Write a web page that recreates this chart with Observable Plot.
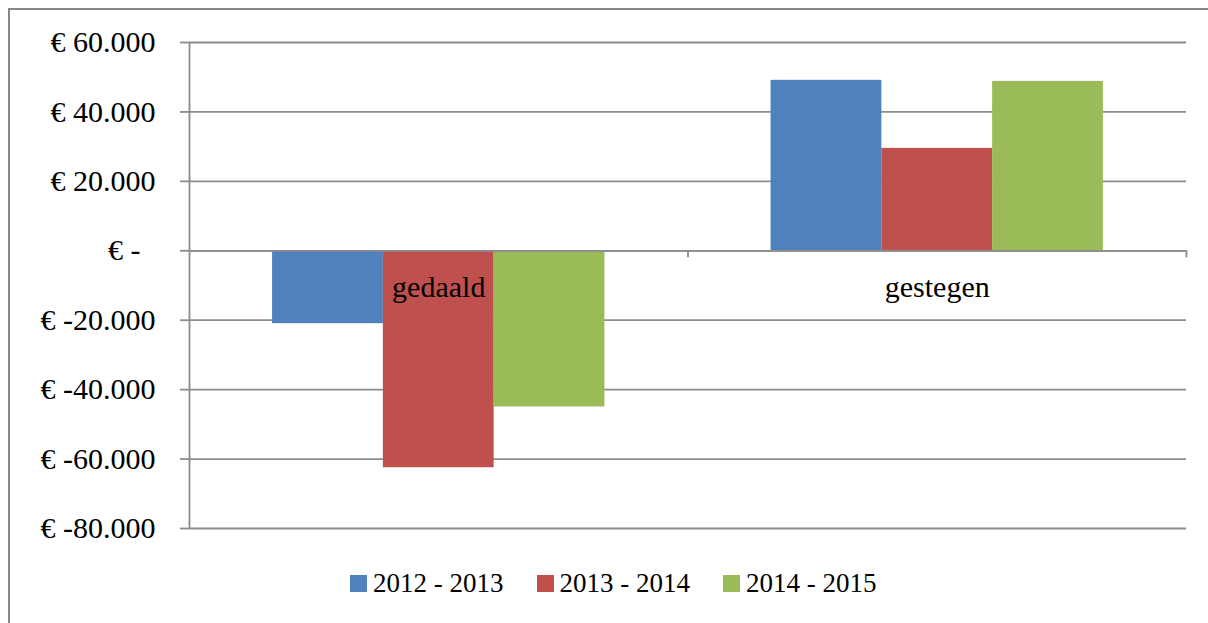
<!DOCTYPE html>
<html>
<head>
<meta charset="utf-8">
<script src="https://cdn.jsdelivr.net/npm/d3@7"></script>
<script src="https://cdn.jsdelivr.net/npm/@observablehq/plot@0.6"></script>
<style>
  html, body { margin: 0; padding: 0; background: #fff; overflow: hidden; width: 1208px; height: 623px; }
  #wrap { position: relative; width: 1208px; height: 623px; overflow: hidden; }
  #border { position: absolute; left: 8px; top: 8px; width: 1400px; height: 800px; border: 2px solid #868686; box-sizing: border-box; z-index: 2; pointer-events: none; }
  #chart { position: absolute; left: 0; top: 0; z-index: 1; }
  #legend { position: absolute; left: 350px; top: 568px; display: flex; align-items: center; font-family: "Liberation Serif", serif; font-size: 27px; color: #000; z-index: 1; }
  .item { display: flex; align-items: center; margin-right: 33px; }
  .sw { width: 17px; height: 17px; margin-right: 6px; }
</style>
</head>
<body>
<div id="wrap">
  <div id="chart"></div>
  <div id="legend"></div>
  <div id="border"></div>
</div>
<script>
const categories = ["gedaald", "gestegen"];
const series = ["2012 - 2013", "2013 - 2014", "2014 - 2015"];
const colors = ["#4F81BD", "#C0504D", "#9BBB59"];
const gedaald = [-21000, -62500, -45000];
const gestegen = [49100, 29500, 48800];
const yTicks = [60000, 40000, 20000, 0, -20000, -40000, -60000, -80000];

const valuesByCategory = {gedaald, gestegen};

// layout of grouped bars in category units
const outer = d3.scaleBand().domain(categories).range([0, categories.length]).padding(0);
const inner = d3.scaleBand().domain(series).range([0, 1]).paddingInner(0).paddingOuter(0.75);

const rows = [];
categories.forEach(c => {
  series.forEach((s, i) => {
    const x1 = outer(c) + inner(s);
    rows.push({category: c, series: s, value: valuesByCategory[c][i], x1, x2: x1 + inner.bandwidth()});
  });
});
const labels = categories.map(c => ({category: c, x: outer(c) + outer.bandwidth() / 2}));
const boundaries = categories.map((c, i) => i + 1);

const loc = d3.formatLocale({decimal: ",", thousands: ".", grouping: [3], currency: ["€ ", ""], minus: "-"});
const fmtNum = loc.format(",");
const fmt = v => v === 0 ? "€ -\u00a0\u00a0" : "€ " + fmtNum(v);

const grid = "#8c8c8c";

const plot = Plot.plot({
  width: 1208,
  height: 560,
  marginLeft: 189,
  marginRight: 22,
  marginTop: 42,
  marginBottom: 32,
  style: {fontFamily: "Liberation Serif, serif", background: "transparent", color: "#000"},
  x: {type: "linear", domain: [0, categories.length], axis: null},
  y: {domain: [-80000, 60000], axis: null},
  color: {domain: series, range: colors},
  marks: [
    Plot.ruleY(yTicks, {stroke: grid, strokeWidth: 1.8}),
    Plot.axisY({ticks: yTicks, label: null, tickSize: 9, tickPadding: 25, tickFormat: fmt, fontSize: 30, stroke: grid, strokeWidth: 1.8, strokeOpacity: 1, fill: "#000"}),
    Plot.ruleX([0], {y1: -80000, y2: 60000, stroke: grid, strokeWidth: 1.8}),
    Plot.rectY(rows, {x1: "x1", x2: "x2", y1: 0, y2: "value", fill: "series"}),
    Plot.ruleY([0], {stroke: grid, strokeWidth: 1.8}),
    Plot.ruleX(boundaries, {y1: 0, y2: 0, insetBottom: -7, stroke: grid, strokeWidth: 1.8}),
    Plot.text(labels, {x: "x", y: 0, text: "category", dy: 37, fontSize: 30, fill: "#000", textAnchor: "middle"})
  ]
});
document.getElementById("chart").appendChild(plot);

const legend = document.getElementById("legend");
series.forEach((s, i) => {
  const item = document.createElement("div");
  item.className = "item";
  const sw = document.createElement("div");
  sw.className = "sw";
  sw.style.background = colors[i];
  const t = document.createElement("span");
  t.textContent = s;
  item.appendChild(sw);
  item.appendChild(t);
  legend.appendChild(item);
});
</script>
</body>
</html>
